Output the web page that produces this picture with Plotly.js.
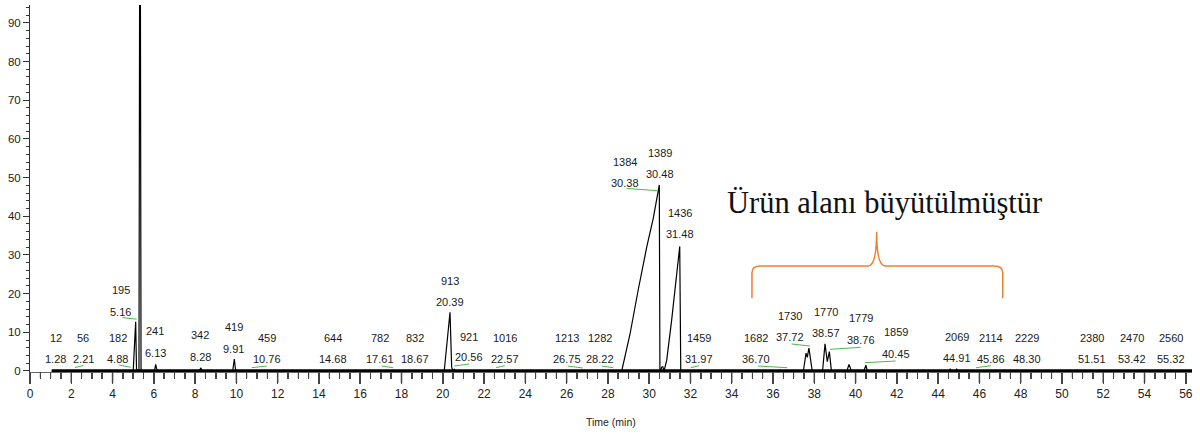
<!DOCTYPE html>
<html>
<head>
<meta charset="utf-8">
<script src="https://cdn.plot.ly/plotly-3.0.1.min.js"></script>
<style>html,body{margin:0;padding:0;background:#fff;}#chart{width:1200px;height:434px;}</style>
</head>
<body>
<div id="chart"></div>
<script>
// ---- Data ----
const timeMin = [1.05, 5.00, 5.12, 5.16, 5.22, 5.28, 5.31, 5.35, 5.38, 5.45, 6.03, 6.09, 6.13, 6.19,
  8.20, 8.28, 8.35, 9.82, 9.90, 9.95, 10.02,
  20.07, 20.35, 20.43, 20.47, 20.50, 20.56, 20.60,
  28.67, 29.07, 29.47, 29.88, 30.20, 30.33, 30.39, 30.46, 30.49, 30.52, 30.56, 30.60, 30.66, 30.72,
  30.85, 31.09, 31.33, 31.44, 31.48, 31.53,
  37.47, 37.60, 37.66, 37.74, 37.90, 38.40, 38.52, 38.63, 38.73, 38.83,
  39.58, 39.68, 39.80, 40.40, 40.50, 40.57,
  44.52, 44.58, 44.64, 44.84, 44.90, 44.96, 56.30];
const signal = [0, 0, 12.7, 0.5, 0, 0, 97, 97, 0, 0, 0, 1.7, 0.6, 0,
  0, 0.8, 0, 0, 3.1, 0.6, 0,
  0, 15.2, 1.0, 0.6, 0, 0.4, 0,
  0, 9.5, 21.0, 32.0, 39.5, 43.7, 45.5, 46.8, 48.1, 0, 0, 1.0, 1.1, 0,
  2.8, 13.2, 26.0, 32.0, 32.2, 0,
  0, 4.6, 3.5, 5.9, 0, 0, 7.0, 2.4, 5.0, 0,
  0, 1.7, 0, 0, 1.5, 0,
  0, 0.5, 0, 0, 0.5, 0, 0];
const baselineTime = [1.05, 56.30];
const baselineValue = [0, 0];

const peakNumbers = ['12','56','182','195','241','342','419','459','644','782','832','913','921','1016','1213','1282',
  '1384','1389','1436','1459','1682','1730','1770','1779','1859','2069','2114','2229','2380','2470','2560'];
const retentionTimes = ['1.28','2.21','4.88','5.16','6.13','8.28','9.91','10.76','14.68','17.61','18.67','20.39','20.56','22.57','26.75','28.22',
  '30.38','30.48','31.48','31.97','36.70','37.72','38.57','38.76','40.45','44.91','45.86','48.30','51.51','53.42','55.32'];
const xMax = 56;
const xTickStep = 2;
const xMinorStep = 0.5;
const yTickStep = 10;
const yMinorStep = 2;
const xAxisTitle = 'Time (min)';
const noteText = 'Ürün alanı büyütülmüştür';

// ---- Layout of labels (positions only) ----
const labelX = [1.24,2.58,4.26,4.39,6.07,8.25,9.88,11.47,14.66,16.96,18.65,20.33,21.27,23.03,26.0,27.63,
  28.85,30.5,31.48,32.41,35.17,36.82,38.57,40.26,41.94,44.9,46.58,48.29,51.47,53.38,55.27];
const DN = 8.6, DT = 3.02;
const labelNumY = [DN,DN,DN,20.93,10.34,9.3,11.45,DN,DN,DN,DN,23.26,8.86,DN,DN,DN,
  54.08,56.25,40.75,DN,DN,14.2,15.32,13.6,10.0,8.86,DN,DN,DN,DN,DN];
const labelTimeY = [DT,DT,DT,15.32,4.57,3.7,5.68,DT,DT,DT,DT,17.9,3.54,DT,DT,DT,
  48.66,50.83,35.32,DT,DT,8.66,9.9,8.0,4.3,3.44,DT,DT,DT,DT,DT];
// leader lines [x0,y0,x1,y1]
const leaders = [
  [2.18,0.9,2.59,1.42],[4.31,1.55,4.88,0.96],[4.47,13.8,5.17,13.4],[10.74,0.85,11.47,1.29],
  [17.04,1.29,17.6,0.85],[20.56,1.29,21.27,1.8],[22.58,0.85,23.01,1.37],[26.05,1.29,26.78,0.78],
  [27.7,1.29,28.26,0.85],[32.01,0.85,32.41,1.37],[35.26,1.29,36.69,0.85],[36.9,6.98,37.79,6.46],
  [38.76,5.6,40.25,6.12],[40.45,2.14,41.94,2.58],[45.83,0.85,46.56,1.37],[28.91,47.2,30.39,46.6]
];

const labelFont = {family: 'Liberation Sans, Arial, sans-serif', size: 11, color: '#1a1a1a'};
const annotations = [];
for (let i = 0; i < peakNumbers.length; i++) {
  annotations.push({x: labelX[i], y: labelNumY[i], xref: 'x', yref: 'y', text: peakNumbers[i],
    showarrow: false, font: labelFont, xanchor: 'center', yanchor: 'middle'});
  annotations.push({x: labelX[i], y: labelTimeY[i], xref: 'x', yref: 'y', text: retentionTimes[i],
    showarrow: false, font: labelFont, xanchor: 'center', yanchor: 'middle'});
}
annotations.push({x: 41.42, y: 43.4, xref: 'x', yref: 'y', text: noteText, showarrow: false,
  font: {family: 'Liberation Serif, Times New Roman, serif', size: 30.5, color: '#111'},
  xanchor: 'center', yanchor: 'middle'});
annotations.push({x: 0.5, y: 0, xref: 'paper', yref: 'paper', yshift: -50, text: xAxisTitle, showarrow: false,
  font: {family: 'Liberation Sans, Arial, sans-serif', size: 10.5, color: '#222'}, xanchor: 'center', yanchor: 'middle'});

const shapes = leaders.map(l => ({type: 'line', xref: 'x', yref: 'y', x0: l[0], y0: l[1], x1: l[2], y1: l[3],
  line: {color: '#4cb84c', width: 1}}));
shapes.push({type: 'path', xref: 'x', yref: 'y',
  path: 'M 34.98,18.8 L 34.98,25.4 Q 34.98,27.13 35.4,27.13 L 40.6,27.13 Q 41.02,27.13 41.02,36 Q 41.02,27.13 41.44,27.13 L 46.7,27.13 Q 47.13,27.13 47.13,25.4 L 47.13,18.8',
  line: {color: '#ED7D31', width: 1.5}});
// x tick marks (major every xTickStep, minor every xMinorStep), hanging below the axis line
const plotH = 434 - 5 - 62;
const nTicks = Math.round(xMax / xMinorStep);
for (let k = 0; k <= nTicks; k++) {
  const t = k * xMinorStep;
  const major = (k % Math.round(xTickStep / xMinorStep)) === 0;
  shapes.push({type: 'line', xref: 'x', yref: 'paper', x0: t, x1: t, y0: 0, y1: -(major ? 11 : 6) / plotH,
    line: {color: '#444', width: major ? 1.5 : 1}});
}

const traces = [
  {x: baselineTime, y: baselineValue, type: 'scatter', mode: 'lines', line: {color: '#000', width: 3.5}, hoverinfo: 'skip'},
  {x: timeMin, y: signal, type: 'scatter', mode: 'lines', line: {color: '#000', width: 1.2}}
];

const layout = {
  width: 1200, height: 434,
  margin: {l: 30, r: 8, t: 5, b: 62},
  showlegend: false,
  xaxis: {
    range: [0, 56.3], showgrid: false, zeroline: false,
    showline: true, linecolor: '#666',
    dtick: xTickStep,
    ticks: 'outside', ticklen: 11, tickcolor: '#444', tickwidth: 1.5,
    minor: {dtick: xMinorStep, ticks: 'outside', ticklen: 6, tickcolor: '#444'},
    tickfont: {family: 'Liberation Sans, Arial, sans-serif', size: 12, color: '#222'}
  },
  yaxis: {
    range: [-0.26, 94.6], showgrid: false, zeroline: false,
    showline: true, linecolor: '#333',
    dtick: yTickStep,
    ticks: 'outside', ticklen: 6, tickcolor: '#333',
    minor: {dtick: yMinorStep, ticks: 'outside', ticklen: 3, tickcolor: '#333'},
    tickfont: {family: 'Liberation Sans, Arial, sans-serif', size: 11.5, color: '#222'}
  },
  annotations: annotations,
  shapes: shapes
};
Plotly.newPlot('chart', traces, layout, {staticPlot: true, displayModeBar: false});
</script>
</body>
</html>
